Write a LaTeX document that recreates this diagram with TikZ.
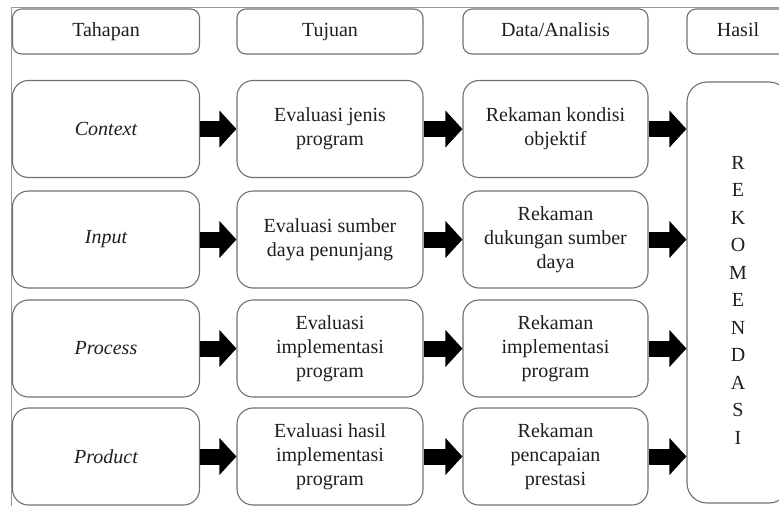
\documentclass[tikz,border=0pt]{standalone}
\usepackage{fontspec}
\setmainfont{Liberation Serif}
\usetikzlibrary{arrows.meta}
\definecolor{boxline}{HTML}{707070}
\definecolor{frameline}{HTML}{9A9A9A}
\definecolor{txt}{HTML}{1E1E1E}
\begin{document}
\begin{tikzpicture}[x={(1pt,0)}, y={(0,-1pt)}]
    \tikzstyle{box} = [draw = boxline, line width = 1.1pt, rounded corners = 16pt, align = center, text = txt, inner sep = 0pt, font = \fontsize{20}{24}\selectfont];
    \tikzstyle{head} = [box, rounded corners = 9pt, minimum height = 45pt, text height = 14pt, text depth = 4pt];
    \tikzstyle{fat} = [line width = 16pt, -{Triangle[length = 17pt, width = 36pt]}];
    \useasboundingbox (0,0) rectangle (779,506);
    \draw[frameline, line width = 1pt] (11,506) -- (11,7) -- (779,7);
    \foreach \l/\x/\w [count=\i] in {Tahapan/106/187, Tujuan/330/186, {Data/Analisis}/555.5/185, Hasil/738/102}
        {\node[head, minimum width = \w pt] (h\i) at (\x,31.5) {\l};}
    \foreach \p/\a/\b/\y [count=\i] in {
        {Context}/{Evaluasi jenis\\program}/{Rekaman kondisi\\objektif}/129,
        {Input}/{Evaluasi sumber\\daya penunjang}/{Rekaman\\dukungan sumber\\daya}/239.5,
        {Process}/{Evaluasi\\implementasi\\program}/{Rekaman\\implementasi\\program}/348.5,
        {Product}/{Evaluasi hasil\\implementasi\\program}/{Rekaman\\pencapaian\\prestasi}/456.5}
        {
        \node[box, minimum width = 187pt, minimum height = 97pt, font = \fontsize{20}{24}\selectfont\itshape] (t\i) at (106,\y) {\p};
        \node[box, minimum width = 186pt, minimum height = 97pt] (j\i) at (330,\y) {\a};
        \node[box, minimum width = 185pt, minimum height = 97pt] (d\i) at (555.5,\y) {\b};
        }
    \node[box, minimum width = 102pt, minimum height = 421pt, rounded corners = 20pt] (rek) at (738,292.5) {};
    \node[align = center, text = txt, inner sep = 0pt, font = \fontsize{20}{27.5}\selectfont] (rektxt) at (738,300) {R\\E\\K\\O\\M\\E\\N\\D\\A\\S\\I};
    \foreach \i in {1,...,4}
        {\draw[fat] (t\i) -- (j\i);
        \draw[fat] (j\i) -- (d\i);
        \draw[fat] (d\i.east) -- (d\i.east -| rek.west);}
\end{tikzpicture}
\end{document}
